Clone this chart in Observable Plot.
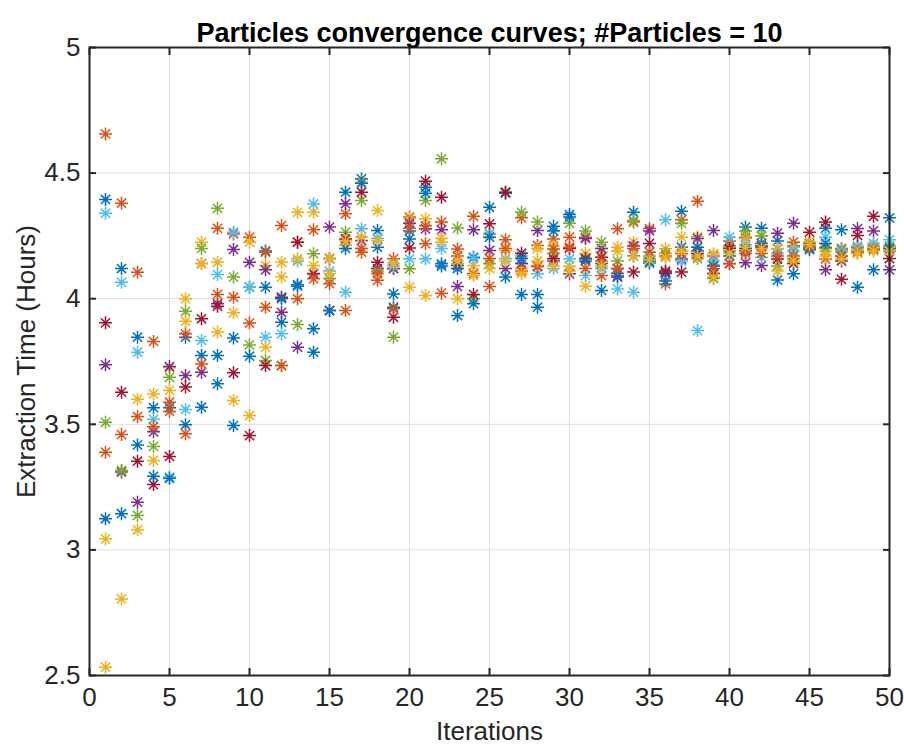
<!DOCTYPE html>
<html>
<head>
<meta charset="utf-8">
<script src="https://cdn.jsdelivr.net/npm/d3@7"></script>
<script src="https://cdn.jsdelivr.net/npm/@observablehq/plot@0.6"></script>
<style>
  html, body { margin: 0; padding: 0; background: #fff; }
  #chart svg { display: block; }
</style>
</head>
<body>
<div id="chart"></div>
<script>
const titleText = "Particles convergence curves; #Particles = 10";
const xLabel = "Iterations";
const yLabel = "Extraction Time (Hours)";
const xTicks = [0, 5, 10, 15, 20, 25, 30, 35, 40, 45, 50];
const yTicks = [2.5, 3, 3.5, 4, 4.5, 5];
const iterations = [1,2,3,4,5,6,7,8,9,10,11,12,13,14,15,16,17,18,19,20,21,22,23,24,25,26,27,28,29,30,31,32,33,34,35,36,37,38,39,40,41,42,43,44,45,46,47,48,49,50];
const particleNames = ["P1","P2","P3","P4","P5","P6","P7","P8","P9","P10"];
const particleColors = ["#0072BD","#D95319","#EDB120","#7E2F8E","#77AC30","#4DBEEE","#A2142F","#0072BD","#D95319","#EDB120"];

const p1 = [4.395,4.12,3.847,3.566,3.566,3.847,3.774,3.774,3.844,4.046, 4.19,3.906,4.056,3.88,4.16,4.424,4.477,4.271,4.019,4.238, 4.444,4.139,3.933,4.165,4.364,4.42,4.017,4.017,4.288,4.335, 4.159,4.14,4.086,4.344,4.142,4.105,4.348,4.205,4.132,4.21, 4.285,4.28,4.23,4.21,4.20,4.28,4.274,4.20,4.20,4.322];
const p2 = [4.656,4.38,4.105,3.83,3.588,3.86,4.14,4.28,4.258,4.245, 4.185,4.291,4.225,4.274,4.16,4.338,4.185,4.073,4.159,4.325, 4.219,4.305,4.198,4.328,4.049,4.235,4.322,4.212,4.238,4.245, 4.245,4.092,4.278,4.305,4.279,4.059,4.314,4.388,4.17,4.23, 4.245,4.205,4.199,4.225,4.22,4.205,4.20,4.205,4.21,4.20];
const p3 = [3.044,3.316,3.60,3.621,3.725,4.0,4.225,4.145,3.944,4.225, 4.132,4.145,4.344,4.344,4.16,4.212,4.465,4.351,4.119,4.32, 4.318,4.225,4.0,4.132,4.255,4.192,4.12,4.20,4.21,4.13, 4.18,4.185,4.205,4.225,4.17,4.199,4.245,4.247,4.179,4.205, 4.24,4.252,4.20,4.205,4.226,4.19,4.185,4.20,4.21,4.205];
const p4 = [3.737,3.31,3.19,3.47,3.73,3.694,3.707,3.98,4.196,4.145, 4.115,3.946,3.807,4.10,4.285,4.378,4.232,4.12,4.12,4.30, 4.278,4.274,4.049,4.274,4.192,4.12,4.14,4.271,4.15,4.099, 4.24,4.20,4.09,4.21,4.27,4.10,4.158,4.24,4.271,4.14, 4.143,4.132,4.261,4.30,4.21,4.115,4.15,4.279,4.27,4.115];
const p5 = [3.508,3.316,3.137,3.412,3.687,3.95,4.20,4.36,4.086,3.816, 3.754,3.734,3.897,4.179,4.08,4.265,4.391,4.11,3.847,4.119, 4.391,4.557,4.281,4.0,4.139,4.424,4.344,4.305,4.18,4.30, 4.27,4.225,4.15,4.311,4.16,4.18,4.30,4.16,4.08,4.19, 4.27,4.25,4.13,4.16,4.215,4.20,4.195,4.19,4.20,4.21];
const p6 = [4.34,4.065,3.787,3.52,3.29,3.559,3.834,4.096,4.265,4.046, 3.847,3.86,4.15,4.377,4.11,4.026,4.278,4.24,4.13,4.159, 4.159,4.20,4.14,4.16,4.26,4.159,4.17,4.099,4.12,4.159, 4.092,4.12,4.039,4.026,4.17,4.314,4.15,3.873,4.15,4.245, 4.215,4.165,4.18,4.19,4.21,4.245,4.19,4.21,4.22,4.235];
const p7 = [3.904,3.628,3.353,3.26,3.372,3.648,3.92,3.97,3.705,3.455, 3.734,4.006,4.225,4.099,3.953,4.238,4.424,4.145,3.926,4.202, 4.468,4.404,4.132,4.017,4.298,4.424,4.181,4.128,4.159,4.20, 4.16,4.165,4.12,4.106,4.22,4.11,4.106,4.18,4.10,4.20, 4.19,4.21,4.158,4.14,4.265,4.305,4.077,4.252,4.328,4.16];
const p8 = [3.124,3.144,3.418,3.293,3.285,3.498,3.568,3.661,3.495,3.771, 4.046,4.00,4.05,3.787,3.953,4.20,4.46,4.205,3.966,4.27, 4.42,4.13,4.12,3.98,4.245,4.086,4.16,3.966,4.27,4.325, 4.15,4.033,4.10,4.17,4.15,4.07,4.205,4.19,4.13,4.17, 4.20,4.22,4.074,4.099,4.195,4.22,4.17,4.046,4.115,4.20];
const p9 = [3.389,3.459,3.531,3.49,3.551,3.462,3.74,4.017,4.006,3.903, 3.966,3.734,4.0,4.079,4.06,3.953,4.20,4.10,3.96,4.28, 4.29,4.022,4.17,4.10,4.16,4.20,4.11,4.13,4.198,4.205, 4.12,4.15,4.12,4.20,4.185,4.17,4.18,4.17,4.12,4.139, 4.18,4.18,4.17,4.17,4.205,4.158,4.17,4.185,4.195,4.19];
const p10 = [2.533,2.805,3.08,3.356,3.635,3.91,4.14,3.867,3.595,3.535, 3.807,4.086,4.159,4.132,4.10,4.23,4.245,4.232,4.14,4.046, 4.013,4.24,4.15,4.092,4.12,4.15,4.10,4.15,4.13,4.11, 4.05,4.13,4.19,4.168,4.155,4.165,4.19,4.17,4.086,4.18, 4.205,4.20,4.11,4.15,4.215,4.17,4.158,4.18,4.19,4.19];

const series = [p1, p2, p3, p4, p5, p6, p7, p8, p9, p10];
const data = [];
series.forEach((vals, k) => {
  vals.forEach((v, i) => data.push({particle: particleNames[k], iteration: iterations[i], time: v}));
});

// MATLAB-style 8-armed asterisk marker
const asterisk = {
  draw(ctx, size) {
    const r = Math.sqrt(size / Math.PI);
    const d = r * Math.SQRT1_2;
    ctx.moveTo(0, -r); ctx.lineTo(0, r);
    ctx.moveTo(-r, 0); ctx.lineTo(r, 0);
    ctx.moveTo(-d, -d); ctx.lineTo(d, d);
    ctx.moveTo(-d, d); ctx.lineTo(d, -d);
  }
};

const ink = "#262626";
const font = "'Liberation Sans', Arial, Helvetica, sans-serif";

const chart = Plot.plot({
  width: 904,
  height: 747,
  marginTop: 47,
  marginRight: 15,
  marginBottom: 72,
  marginLeft: 89,
  style: {fontFamily: font, fontSize: "26px", color: ink, background: "#fff"},
  x: {domain: [0, 50]},
  y: {domain: [2.5, 5]},
  color: {domain: particleNames, range: particleColors},
  marks: [
    Plot.gridX(xTicks, {stroke: "#dedede", strokeOpacity: 1, strokeWidth: 1}),
    Plot.gridY(yTicks, {stroke: "#dedede", strokeOpacity: 1, strokeWidth: 1}),
    Plot.dot(data, {x: "iteration", y: "time", stroke: "particle", symbol: asterisk, r: 6.5, strokeWidth: 1.5, fill: "none"}),
    Plot.frame({stroke: ink, strokeWidth: 2}),
    Plot.axisX(xTicks, {anchor: "bottom", tickSize: -7, tickPadding: 19, strokeWidth: 2, stroke: ink, fill: ink,
      label: xLabel, labelAnchor: "center", labelArrow: "none", labelOffset: 64, fontSize: 26}),
    Plot.axisX(xTicks, {anchor: "top", tickSize: -7, text: null, strokeWidth: 2, stroke: ink, label: null}),
    Plot.axisY(yTicks, {anchor: "left", tickSize: -7, tickPadding: 16, strokeWidth: 2, stroke: ink, fill: ink,
      tickFormat: d => String(d),
      label: yLabel, labelAnchor: "center", labelArrow: "none", labelOffset: 73, fontSize: 26}),
    Plot.axisY(yTicks, {anchor: "right", tickSize: -7, text: null, strokeWidth: 2, stroke: ink, label: null}),
    Plot.text([titleText], {frameAnchor: "top", dy: -25, text: d => d, fontWeight: "bold", fontSize: 27, fill: "#000"})
  ]
});

document.getElementById("chart").appendChild(chart);
</script>
</body>
</html>
